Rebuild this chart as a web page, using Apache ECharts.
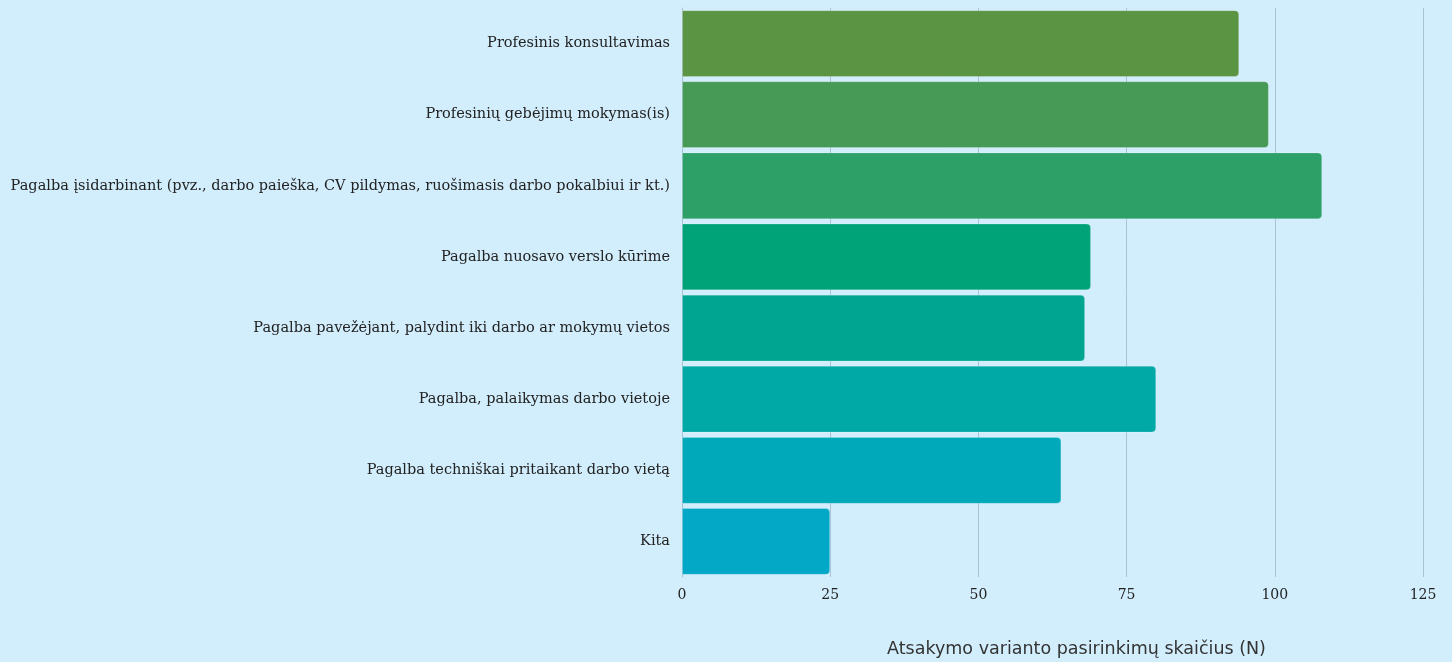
<!DOCTYPE html>
<html>
<head>
<meta charset="utf-8">
<script src="https://cdn.jsdelivr.net/npm/echarts@6/dist/echarts.min.js"></script>
<style>
  html, body { margin: 0; padding: 0; background: #d2eefd; }
  #chart { width: 1452px; height: 662px; }
</style>
</head>
<body>
<div id="chart"></div>
<script>
// kategorijos (iš viršaus į apačią)
var categories = [
  'Profesinis konsultavimas',
  'Profesinių gebėjimų mokymas(is)',
  'Pagalba įsidarbinant (pvz., darbo paieška, CV pildymas, ruošimasis darbo pokalbiui ir kt.)',
  'Pagalba nuosavo verslo kūrime',
  'Pagalba pavežėjant, palydint iki darbo ar mokymų vietos',
  'Pagalba, palaikymas darbo vietoje',
  'Pagalba techniškai pritaikant darbo vietą',
  'Kita'
]
var values = [94, 99, 108, 69, 68, 80, 64, 25]
var barColors = ['#5b9442', '#479a55', '#2da068', '#00a277', '#00a591', '#00a8a6', '#00a9b9', '#02a8c6']
var xTicks = { min: 0, max: 125, interval: 25 }
var axisTitle = 'Atsakymo varianto pasirinkimų skaičius (N)'

var chart = echarts.init(document.getElementById('chart'))

var seriesData = values.map(function (v, i) {
  return { value: v, itemStyle: { color: barColors[i] } }
})

var option = {
  backgroundColor: '#d2eefd',
  grid: {
    left: 682,
    right: 29,
    top: 8,
    bottom: 85,
    outerBoundsMode: 'none'
  },
  xAxis: {
    type: 'value',
    min: xTicks.min,
    max: xTicks.max,
    interval: xTicks.interval,
    name: axisTitle,
    nameLocation: 'middle',
    nameGap: 63,
    nameTextStyle: {
      fontFamily: 'DejaVu Sans',
      fontSize: 17.5,
      color: '#333',
      padding: [0, 0, 0, 48]
    },
    axisLine: { show: false },
    axisTick: { show: false },
    axisLabel: {
      fontFamily: 'DejaVu Serif',
      fontSize: 14,
      color: '#222',
      margin: 11
    },
    splitLine: {
      lineStyle: { color: '#a9c3d3', width: 1 }
    }
  },
  yAxis: {
    type: 'category',
    inverse: true,
    data: categories,
    axisLine: { show: true, lineStyle: { color: '#a9c3d3' } },
    axisTick: { show: false },
    axisLabel: {
      fontFamily: 'DejaVu Serif',
      fontSize: 14.5,
      color: '#222',
      margin: 12
    }
  },
  series: [{
    type: 'bar',
    data: seriesData,
    barCategoryGap: '6%',
    itemStyle: {
      borderRadius: [0, 4, 4, 0],
      borderColor: 'rgba(255,255,255,0.2)',
      borderWidth: 1
    }
  }]
}
chart.setOption(option)
window.addEventListener('resize', function () {
  chart.resize()
})
</script>
</body>
</html>
